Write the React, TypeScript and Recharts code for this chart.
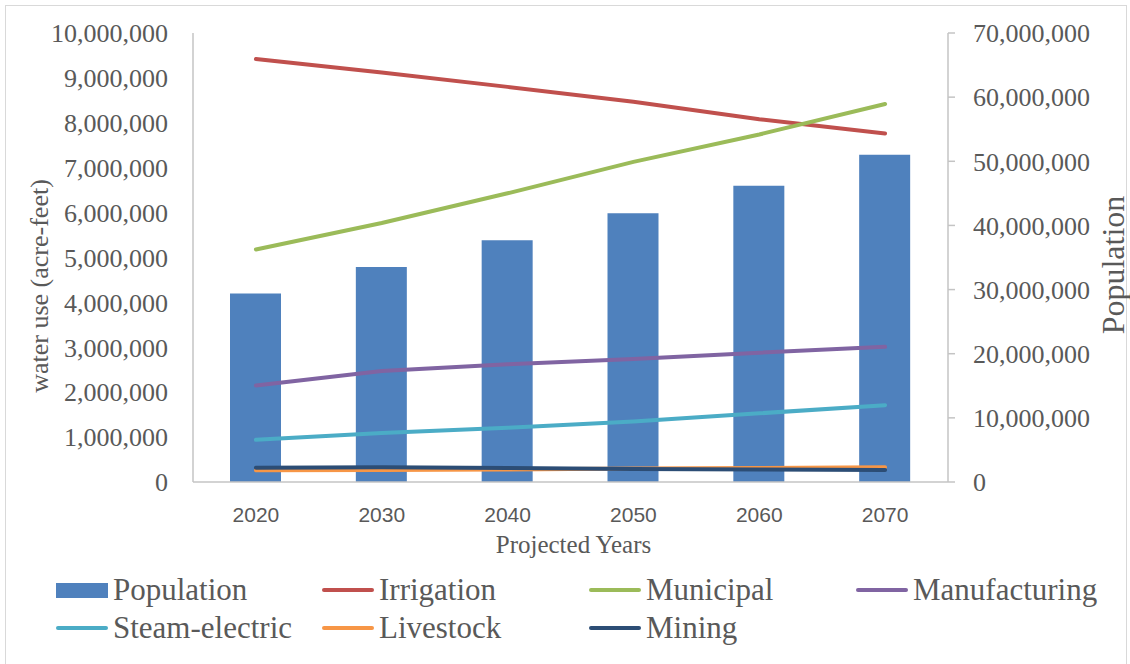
import { Bar, ComposedChart, Label, Line, XAxis, YAxis } from "recharts";

const years = ["2020", "2030", "2040", "2050", "2060", "2070"];

const population = [29400000, 33500000, 37700000, 41900000, 46200000, 51000000];
const irrigation = [9420000, 9120000, 8800000, 8470000, 8080000, 7760000];
const municipal = [5180000, 5770000, 6430000, 7130000, 7740000, 8420000];
const manufacturing = [2150000, 2470000, 2620000, 2740000, 2880000, 3010000];
const steamElectric = [940000, 1090000, 1210000, 1350000, 1530000, 1710000];
const livestock = [260000, 270000, 280000, 300000, 310000, 330000];
const mining = [320000, 330000, 310000, 290000, 280000, 270000];

const waterTicks = [0, 1000000, 2000000, 3000000, 4000000, 5000000, 6000000, 7000000, 8000000, 9000000, 10000000];
const populationTicks = [0, 10000000, 20000000, 30000000, 40000000, 50000000, 60000000, 70000000];

type Series = {
  key: string;
  name: string;
  color: string;
  kind: "bar" | "line";
};

const seriesList: Series[] = [
  { key: "population", name: "Population", color: "#4F81BD", kind: "bar" },
  { key: "irrigation", name: "Irrigation", color: "#C0504D", kind: "line" },
  { key: "municipal", name: "Municipal", color: "#9BBB59", kind: "line" },
  { key: "manufacturing", name: "Manufacturing", color: "#8064A2", kind: "line" },
  { key: "steamElectric", name: "Steam-electric", color: "#4BACC6", kind: "line" },
  { key: "livestock", name: "Livestock", color: "#F79646", kind: "line" },
  { key: "mining", name: "Mining", color: "#2C4D75", kind: "line" },
];

const data = years.map((year, i) => ({
  year,
  population: population[i],
  irrigation: irrigation[i],
  municipal: municipal[i],
  manufacturing: manufacturing[i],
  steamElectric: steamElectric[i],
  livestock: livestock[i],
  mining: mining[i],
}));

const TEXT = "#595959";
const AXIS = "#c4c4c4";
const SERIF = "'Liberation Serif', 'Times New Roman', serif";

function formatNumber(value: number) {
  return value.toLocaleString("en-US");
}

type TitleProps = {
  viewBox?: { x: number; y: number; width: number; height: number };
  text: string;
  dx: number;
  dy: number;
  size: number;
};

function AxisTitle({ viewBox, text, dx, dy, size }: TitleProps) {
  const vb = viewBox ?? { x: 0, y: 0, width: 0, height: 0 };
  const x = vb.x + dx;
  const y = vb.y + dy;
  return (
    <text
      x={x}
      y={y}
      transform={`rotate(-90, ${x}, ${y})`}
      textAnchor="middle"
      fill={TEXT}
      fontFamily={SERIF}
      fontSize={size}
    >
      {text}
    </text>
  );
}

function ChartLegend() {
  const columns = [56, 322, 589, 856];
  const rows = [570, 608];

  return (
    <>
      {seriesList.map((s, i) => (
        <div
          key={s.key}
          style={{
            position: "absolute",
            left: columns[i % 4],
            top: rows[Math.floor(i / 4)],
            height: 40,
            display: "flex",
            alignItems: "center",
            fontFamily: SERIF,
            fontSize: 31,
            lineHeight: "40px",
            color: TEXT,
            whiteSpace: "nowrap",
          }}
        >
          {s.kind === "bar" ? (
            <span style={{ display: "inline-block", width: 52, height: 15, background: s.color }} />
          ) : (
            <span
              style={{
                display: "inline-block",
                width: 52,
                height: 4,
                borderRadius: 2,
                background: s.color,
              }}
            />
          )}
          <span style={{ marginLeft: 5 }}>{s.name}</span>
        </div>
      ))}
    </>
  );
}

export default function App() {
  return (
    <div
      style={{
        position: "absolute",
        left: 0,
        top: 0,
        width: 1130,
        height: 664,
        overflow: "hidden",
        background: "#ffffff",
      }}
    >
      <div
        style={{
          position: "absolute",
          left: 5,
          top: 5,
          width: 1120,
          height: 680,
          border: "1px solid #d9d9d9",
        }}
      />

      <div style={{ position: "absolute", left: 0, top: 0 }}>
        <ComposedChart
          width={1130}
          height={664}
          data={data}
          margin={{ top: 33, right: 0, bottom: 102, left: 0 }}
          barCategoryGap={0}
        >
          <XAxis
            dataKey="year"
            height={80}
            tickLine={false}
            tickSize={0}
            tickMargin={25}
            axisLine={{ stroke: AXIS, strokeWidth: 1.5 }}
            tick={{ fill: TEXT, fontSize: 21, fontFamily: "'Liberation Sans', Arial, sans-serif" }}
          >
            <Label
              value="Projected Years"
              position="insideBottom"
              offset={9}
              dx={3}
              fill={TEXT}
              fontFamily={SERIF}
              fontSize={25}
            />
          </XAxis>

          <YAxis
            yAxisId="left"
            width={193}
            domain={[0, 10000000]}
            ticks={waterTicks}
            interval={0}
            tickFormatter={formatNumber}
            tickLine={false}
            tickSize={6}
            tickMargin={19}
            axisLine={{ stroke: AXIS, strokeWidth: 1.5 }}
            tick={{ fill: TEXT, fontSize: 26, fontFamily: SERIF }}
          >
            <Label
              content={(props: any) => (
                <AxisTitle viewBox={props.viewBox} text="water use (acre-feet)" dx={48} dy={253} size={26} />
              )}
            />
          </YAxis>

          <YAxis
            yAxisId="right"
            orientation="right"
            width={182}
            domain={[0, 70000000]}
            ticks={populationTicks}
            interval={0}
            tickFormatter={formatNumber}
            tickSize={7}
            tickMargin={18}
            tickLine={{ stroke: AXIS, strokeWidth: 1.5 }}
            axisLine={{ stroke: AXIS, strokeWidth: 1.5 }}
            tick={{ fill: TEXT, fontSize: 26, fontFamily: SERIF }}
          >
            <Label
              content={(props: any) => (
                <AxisTitle viewBox={props.viewBox} text="Population" dx={176} dy={232} size={32} />
              )}
            />
          </YAxis>

          {seriesList.map((s) =>
            s.kind === "bar" ? (
              <Bar
                key={s.key}
                yAxisId="right"
                dataKey={s.key}
                name={s.name}
                fill={s.color}
                barSize={51}
                isAnimationActive={false}
              />
            ) : (
              <Line
                key={s.key}
                yAxisId="left"
                type="linear"
                dataKey={s.key}
                name={s.name}
                stroke={s.color}
                strokeWidth={4}
                strokeLinecap="round"
                dot={false}
                activeDot={false}
                isAnimationActive={false}
              />
            )
          )}
        </ComposedChart>
      </div>

      <ChartLegend />
    </div>
  );
}
